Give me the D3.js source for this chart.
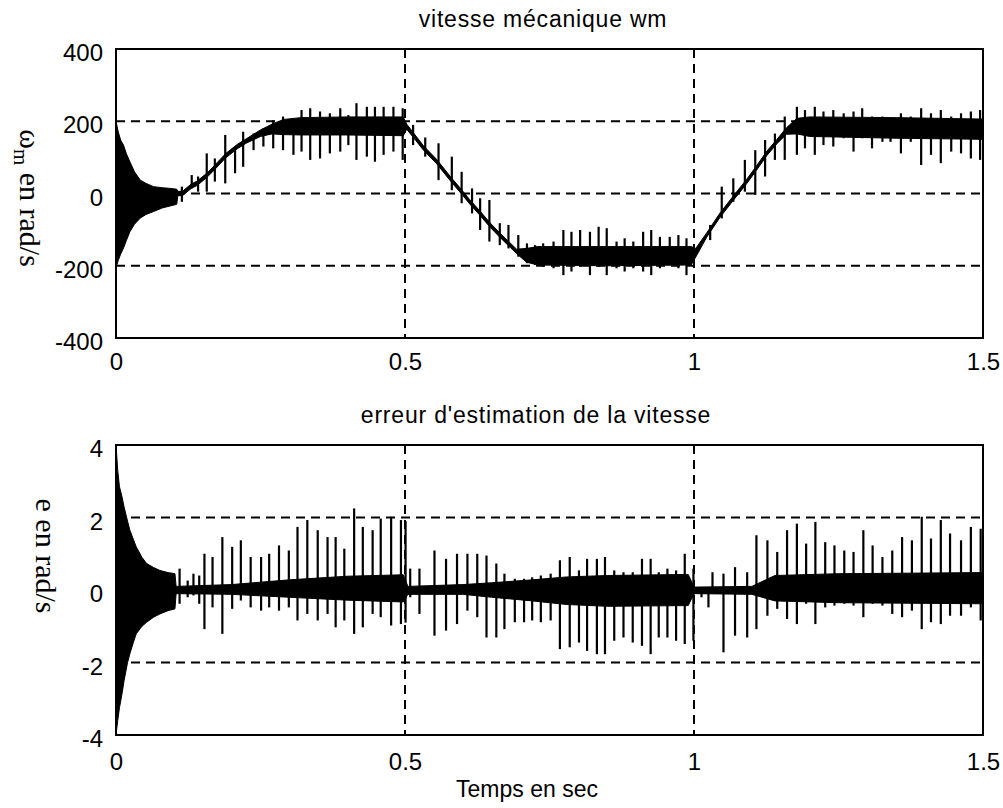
<!DOCTYPE html>
<html>
<head>
<meta charset="utf-8">
<script src="https://cdn.jsdelivr.net/npm/d3@7"></script>
<style>
  body { margin: 0; background: #fff; }
  svg text { fill: #000; }
</style>
</head>
<body>
<div id="my_dataviz"></div>
<script>
// time axis ticks (sec)
var timeTicks = [0, 0.5, 1, 1.5];
var wmTicks = [-400, -200, 0, 200, 400];
var errTicks = [-4, -2, 0, 2, 4];

// speed wm : dense black band [t, low, high]
var wmBand = [[0,-205,200],[0.004,-185,170],[0.008,-168,148],[0.013,-151,134],[0.018,-130,110],
[0.024,-106,88],[0.032,-85,60],[0.042,-68,37],[0.052,-58,28],[0.065,-50,19],[0.08,-40,16],
[0.095,-34,14],[0.105,-30,12],[0.107,-6,6],[0.115,-6,6],[0.13,14,26],[0.14,22,34],[0.157,44,56],
[0.17,65,77],[0.19,99,111],[0.21,124,136],[0.225,139,151],[0.25,158,176],[0.27,165,192],
[0.29,163,205],[0.32,162,210],[0.4,162,212],[0.497,160,212],[0.503,178,192],[0.532,120,132],
[0.555,82,94],[0.578,36,48],[0.595,4,16],[0.612,-29,-17],[0.63,-61,-49],[0.647,-93,-81],
[0.664,-121,-109],[0.682,-149,-137],[0.693,-166,-154],[0.71,-190,-152],[0.73,-198,-147],
[0.85,-200,-147],[0.995,-198,-147],[1.003,-176,-152],[1.022,-121,-109],[1.045,-66,-54],
[1.068,-19,-7],[1.091,27,39],[1.108,64,76],[1.126,105,117],[1.143,137,149],[1.16,164,182],
[1.178,165,208],[1.2,158,212],[1.35,153,210],[1.5,150,206]];

// speed wm : spikes [t, low, high]
var wmSpikes = [[0.114,-23,19],[0.131,14,51],[0.142,5,47],[0.157,5,111],[0.171,33,97],[0.189,28,162],
[0.206,56,125],[0.22,74,171],[0.238,120,166],[0.255,130,180],[0.272,125,203],[0.289,120,213],
[0.307,107,208],[0.321,116,231],[0.336,93,236],[0.353,97,227],[0.37,111,222],[0.388,116,236],
[0.402,134,217],[0.416,93,250],[0.434,102,240],[0.448,88,240],[0.463,107,240],[0.48,116,240],
[0.496,93,236],[0.514,134,190],[0.535,102,155],[0.558,37,139],[0.581,9,102],[0.598,-27,60],
[0.616,-55,14],[0.63,-101,-13],[0.646,-133,-18],[0.664,-143,-82],[0.679,-152,-87],[0.696,-175,-115],
[0.711,-193,-138],[0.725,-198,-143],[0.739,-203,-138],[0.757,-207,-133],[0.774,-226,-101],
[0.788,-216,-106],[0.803,-203,-101],[0.82,-226,-106],[0.835,-203,-92],[0.849,-226,-96],
[0.866,-207,-133],[0.88,-216,-124],[0.895,-207,-133],[0.912,-216,-106],[0.926,-226,-101],
[0.941,-207,-120],[0.958,-198,-120],[0.973,-207,-115],[0.987,-226,-124],[1.028,-129,-87],
[1.048,-69,19],[1.068,-23,42],[1.088,5,93],[1.106,-4,120],[1.123,47,148],[1.14,93,166],
[1.157,93,213],[1.178,107,240],[1.192,125,231],[1.209,107,240],[1.224,134,227],[1.241,130,231],
[1.259,153,222],[1.276,116,227],[1.291,153,236],[1.308,125,213],[1.326,143,213],[1.34,143,208],
[1.358,111,222],[1.375,143,213],[1.393,79,236],[1.41,107,222],[1.427,84,231],[1.445,116,213],
[1.462,111,222],[1.479,97,227],[1.495,93,231]];

// estimation error e : dense black band [t, low, high]
var errBand = [[0,-4,4],[0.003,-3.6,3.3],[0.006,-3.25,2.85],[0.01,-2.9,2.6],[0.014,-2.5,2.29],
[0.02,-2.0,1.9],[0.024,-1.76,1.65],[0.03,-1.45,1.4],[0.035,-1.21,1.19],[0.045,-1.0,0.9],
[0.053,-0.89,0.73],[0.065,-0.75,0.62],[0.076,-0.66,0.54],[0.09,-0.57,0.48],[0.102,-0.52,0.45],
[0.104,-0.1,0.1],[0.2,-0.12,0.15],[0.3,-0.2,0.28],[0.4,-0.28,0.38],[0.497,-0.33,0.42],
[0.505,-0.12,0.1],[0.6,-0.12,0.15],[0.65,-0.2,0.2],[0.72,-0.3,0.28],[0.78,-0.4,0.36],
[0.85,-0.45,0.4],[0.99,-0.43,0.43],[1.0,-0.1,0.08],[1.1,-0.12,0.1],[1.14,-0.3,0.4],
[1.25,-0.35,0.45],[1.5,-0.38,0.48]];

// estimation error e : spikes [t, low, high]
var errSpikes = [[0.11,-0.38,0.59],[0.124,-0.2,0.26],[0.134,-0.15,0.45],[0.144,-0.38,0.4],
[0.153,-1.08,1.0],[0.167,-0.48,0.91],[0.184,-1.21,1.46],[0.201,-0.52,1.19],[0.216,-0.29,1.37],
[0.233,-0.48,0.91],[0.251,-0.57,0.91],[0.265,-0.48,1.0],[0.282,-0.57,1.23],[0.299,-0.48,1.09],
[0.314,-0.84,1.74],[0.331,-0.66,1.93],[0.349,-0.84,1.65],[0.366,-0.66,1.46],[0.38,-1.03,1.46],
[0.395,-0.84,1.14],[0.412,-1.21,2.25],[0.427,-1.03,1.74],[0.444,-0.66,1.65],[0.458,-0.75,1.97],
[0.476,-0.98,2.02],[0.493,-0.94,1.93],[0.501,-0.9,1.9],[0.509,-0.2,0.59],[0.525,-0.66,0.59],
[0.551,-1.26,1.09],[0.571,-1.12,0.86],[0.59,-0.94,1.0],[0.608,-0.57,1.0],[0.625,-0.75,1.0],
[0.641,-1.31,0.95],[0.658,-1.31,0.73],[0.672,-1.08,0.45],[0.69,-0.89,0.31],[0.706,-0.89,0.31],
[0.72,-0.84,0.35],[0.735,-0.89,0.4],[0.752,-0.84,0.45],[0.768,-1.63,0.82],[0.785,-1.58,0.91],
[0.801,-1.45,0.54],[0.815,-1.68,0.86],[0.832,-1.77,0.86],[0.846,-1.77,0.91],[0.862,-1.4,0.54],
[0.878,-1.31,0.49],[0.894,-1.45,0.49],[0.91,-1.54,0.86],[0.925,-1.77,0.86],[0.939,-1.31,0.49],
[0.954,-1.31,0.59],[0.969,-1.4,0.54],[0.984,-1.49,1.0],[0.999,-1.4,0.59],[1.013,-0.2,0.08],
[1.025,-0.48,0.08],[1.032,-0.01,0.49],[1.051,-1.72,0.45],[1.071,-1.26,0.63],[1.092,-1.31,0.49],
[1.108,-1.08,1.51],[1.127,-0.71,1.37],[1.144,-0.52,1.05],[1.161,-0.8,1.65],[1.178,-0.94,1.83],
[1.194,-0.38,1.28],[1.21,-0.94,1.88],[1.227,-0.48,1.32],[1.243,-0.43,1.23],[1.26,-0.38,1.09],
[1.276,-0.43,1.05],[1.293,-0.75,1.65],[1.309,-0.38,1.23],[1.326,-0.43,0.91],[1.343,-0.66,1.09],
[1.36,-0.75,1.46],[1.377,-0.57,1.37],[1.394,-1.08,2.02],[1.41,-0.89,1.42],[1.427,-0.94,1.93],
[1.443,-0.71,1.56],[1.462,-0.71,1.37],[1.479,-0.48,1.74],[1.496,-0.84,1.69]];

var sansFont = "'Liberation Sans', Arial, Helvetica, sans-serif";
var serifFont = "'Liberation Serif', 'Times New Roman', serif";

var svg = d3.select("#my_dataviz")
  .append("svg")
    .attr("width", 1003)
    .attr("height", 808);

// shared x scale, both panels have same horizontal extent
var xScale = d3.scaleLinear().domain([0, 1.5]).range([116, 983]);

function panel(opts) {
  var yScale = d3.scaleLinear().domain(opts.yDomain).range([opts.bottom, opts.top]);
  var g = svg.append("g");

  // dashed grid
  g.selectAll(".vgrid")
    .data(timeTicks.slice(1, -1))
    .enter().append("line")
      .attr("x1", function(d) { return xScale(d); })
      .attr("x2", function(d) { return xScale(d); })
      .attr("y1", opts.top).attr("y2", opts.bottom)
      .attr("stroke", "#000").attr("stroke-width", 2)
      .attr("stroke-dasharray", "9,6");
  g.selectAll(".hgrid")
    .data(opts.yTicks.slice(1, -1))
    .enter().append("line")
      .attr("x1", xScale(0)).attr("x2", xScale(1.5))
      .attr("y1", function(d) { return yScale(d); })
      .attr("y2", function(d) { return yScale(d); })
      .attr("stroke", "#000").attr("stroke-width", 2)
      .attr("stroke-dasharray", "9,6");

  // dense part of the signal
  g.append("path")
    .datum(opts.band)
    .attr("fill", "#000")
    .attr("stroke", "#000")
    .attr("stroke-width", 1)
    .attr("d", d3.area()
      .x(function(d) { return xScale(d[0]); })
      .y0(function(d) { return yScale(d[1]); })
      .y1(function(d) { return yScale(d[2]); }));

  // spikes
  g.selectAll(".spike")
    .data(opts.spikes)
    .enter().append("line")
      .attr("x1", function(d) { return xScale(d[0]); })
      .attr("x2", function(d) { return xScale(d[0]); })
      .attr("y1", function(d) { return yScale(d[1]); })
      .attr("y2", function(d) { return yScale(d[2]); })
      .attr("stroke", "#000").attr("stroke-width", 2.2);

  // frame
  g.append("rect")
    .attr("x", xScale(0)).attr("y", opts.top)
    .attr("width", xScale(1.5) - xScale(0))
    .attr("height", opts.bottom - opts.top)
    .attr("fill", "none").attr("stroke", "#000").attr("stroke-width", 2);

  // axes (labels only)
  var xAxis = d3.axisBottom(xScale)
    .tickValues(timeTicks)
    .tickFormat(function(d) { return String(d); })
    .tickSize(0).tickPadding(opts.xPad);
  var ax = g.append("g")
    .attr("transform", "translate(0," + opts.bottom + ")")
    .call(xAxis);
  ax.select(".domain").remove();
  ax.selectAll("text").attr("font-family", sansFont).attr("font-size", 24).attr("fill", "#000");

  var yAxis = d3.axisLeft(yScale)
    .tickValues(opts.yTicks)
    .tickFormat(function(d) { return String(d); })
    .tickSize(0).tickPadding(13);
  var ay = g.append("g")
    .attr("transform", "translate(" + xScale(0) + ",0)")
    .call(yAxis);
  ay.select(".domain").remove();
  ay.selectAll("text").attr("font-family", sansFont).attr("font-size", 24)
    .attr("dy", "0.48em").attr("fill", "#000");

  // title
  g.append("text")
    .attr("x", opts.titleX).attr("y", opts.top - 22)
    .attr("text-anchor", "middle")
    .attr("font-family", sansFont).attr("font-size", 23)
    .attr("letter-spacing", 0.8)
    .text(opts.title);
}

panel({top: 49, bottom: 338, yDomain: [-400, 400], yTicks: wmTicks,
  band: wmBand, spikes: wmSpikes, xPad: 15,
  title: "vitesse mécanique wm", titleX: 543});

panel({top: 445, bottom: 735, yDomain: [-4, 4], yTicks: errTicks,
  band: errBand, spikes: errSpikes, xPad: 18,
  title: "erreur d'estimation de la vitesse", titleX: 536});

// y labels, read top to bottom
var yl1 = svg.append("text")
  .attr("transform", "translate(20,198) rotate(90)")
  .attr("text-anchor", "middle")
  .attr("font-family", serifFont).attr("font-size", 30);
yl1.append("tspan").text("ω");
yl1.append("tspan").attr("font-size", 21).attr("dy", 6).text("m");
yl1.append("tspan").attr("dy", -6).text(" en rad/s");

svg.append("text")
  .attr("transform", "translate(36,556) rotate(90)")
  .attr("text-anchor", "middle")
  .attr("font-family", serifFont).attr("font-size", 30)
  .text("e en rad/s");

// x label
svg.append("text")
  .attr("x", 527).attr("y", 797)
  .attr("text-anchor", "middle")
  .attr("font-family", sansFont).attr("font-size", 23)
  .text("Temps en sec");
</script>
</body>
</html>
